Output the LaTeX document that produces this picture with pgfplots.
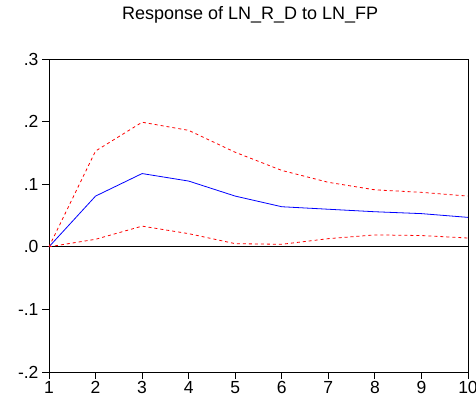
\documentclass[border=0pt]{standalone}
\usepackage{pgfplots}
\pgfplotsset{compat=1.18}
\usepackage{fontspec}
\setmainfont{Liberation Sans}
\begin{document}
\begin{tikzpicture}[x=1pt,y=1pt]
\path[use as bounding box] (0,0) rectangle (476,401);
\begin{axis}[
  at={(49pt,29pt)}, anchor=south west,
  scale only axis, width=419pt, height=313pt,
  xmin=1, xmax=10, ymin=-0.2, ymax=0.3,
  xtick={1,...,10},
  ytick={-0.2,-0.1,0,0.1,0.2,0.3},
  yticklabels={-.2,-.1,.0,.1,.2,.3},
  tick align=outside, tick pos=left,
  major tick length=7pt,
  tick style={black, line width=0.8pt},
  axis line style={line width=0.8pt},
  /pgf/number format/assume math mode=true,
  tick label style={font=\fontsize{17.5}{17.5}\selectfont},
  xticklabel style={yshift=1pt},
  title={Response of LN\_R\_D to LN\_FP},
  title style={font=\fontsize{18}{18}\selectfont, at={(0.48,1)}, anchor=base, yshift=33pt},
  clip=false,
]
\addplot[black, line width=0.8pt, forget plot] coordinates {(1,0) (10,0)};
\addplot[blue, line width=0.8pt] coordinates {
(1,0) (2,0.081) (3,0.117) (4,0.105) (5,0.081) (6,0.064) (7,0.060) (8,0.056) (9,0.053) (10,0.047)};
\addplot[red, dashed, line width=0.8pt] coordinates {
(1,0) (2,0.153) (3,0.199) (4,0.186) (5,0.151) (6,0.122) (7,0.103) (8,0.091) (9,0.087) (10,0.081)};
\addplot[red, dashed, line width=0.8pt] coordinates {
(1,0) (2,0.012) (3,0.033) (4,0.021) (5,0.005) (6,0.004) (7,0.013) (8,0.019) (9,0.018) (10,0.014)};
\end{axis}
\end{tikzpicture}
\end{document}
